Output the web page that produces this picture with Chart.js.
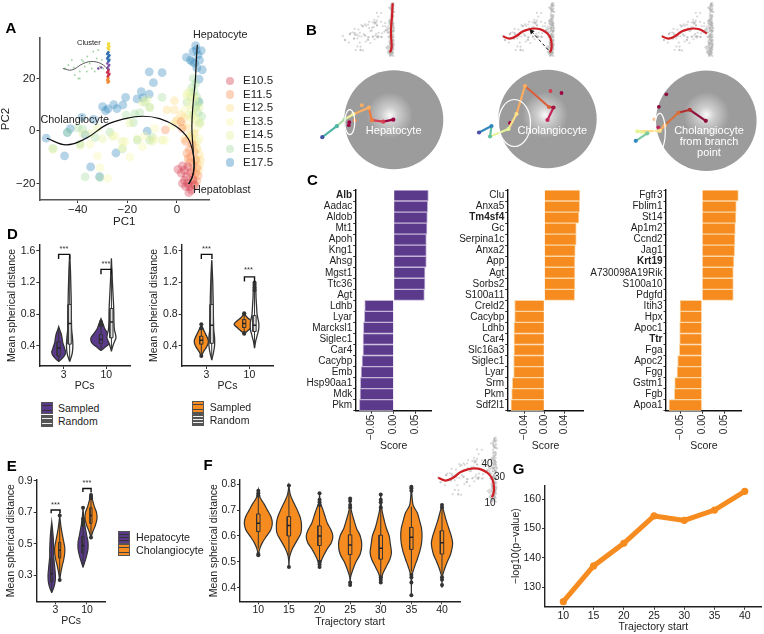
<!DOCTYPE html>
<html><head><meta charset="utf-8">
<style>
html,body{margin:0;padding:0;background:#fff}
#root{position:relative;width:764px;height:634px;overflow:hidden;background:#fff;font-family:"Liberation Sans",Arial,sans-serif}
#root canvas{position:absolute}
.t{position:absolute;white-space:nowrap;line-height:1;color:#222}
.k{position:absolute;box-sizing:border-box}
</style>
<script src="https://cdn.jsdelivr.net/npm/chart.js@4"></script>
</head><body><div id="root"></div>
<script>
/* ---------- Panel A data ---------- */
const stages=['E10.5','E11.5','E12.5','E13.5','E14.5','E15.5','E17.5'];
const stageColors=['#D53E4F','#F98E52','#FDDB85','#F7F7A8','#E2F29A','#A4DA9F','#3288BD'];
const e105=[[0.4,-14.6],[2.2,-13.3],[3,-14.9],[1.7,-16.1],[3.8,-17.4],[3,-18.7],[2.2,-20],[4.4,-20],[5.1,-21.2],[3.5,-21.2],[5.8,-22.5],[4.8,-23.5],[7.1,-20.6],[6.5,-18.7],[5.4,-16.1],[4.4,-13.6]];
const e115=[[6,-5],[5,-7],[7,-8],[5.5,-10],[7.5,-11],[6.5,-13],[8,-14],[5,-12],[7.5,-16],[8.5,-17],[6,-15.5],[8,-19],[4,-8.5],[3.5,-4],[1.6,3.5],[-4.7,0.4],[2,1],[7,-20.5],[4.5,-10.5],[6.5,-18]];
const e125=[[0,4],[-1,8],[-4,8],[-1,11.5],[1.5,6],[3,5],[2.5,2],[4,1],[5,-2],[3,-3],[6,-3],[7,-5],[8,-6.5],[9,-9],[8,-11],[9,-13],[7,-1],[-0.5,3.5],[8.7,-15],[9.5,-11]];
const e135=[[-32,-9.5],[-31,-14],[-28,-18],[-19,-10],[-21,-4],[-25,-2],[-14,-6],[-9,-3],[-5,-3.5],[-2,2],[3,8],[5,10],[6,3],[8,1],[9,-3],[7,6],[5.5,-2],[8,-7],[4,13],[7,12],[6,5],[-13,-2],[-22,-6.5],[-9,1],[-35,-5]];
const e145=[[-50,-7],[-39,-5.5],[-35,-1],[-30,-3],[-26,-2],[-22,-4],[-16,-3],[-10,-4],[-12,12],[-14,11],[4,14],[5,15],[7,13],[9,9],[8,4],[6,8],[9.5,3],[6.5,-1],[8,-4],[4.5,6],[-38,-1],[-32,1],[-6,-3.5],[-19,3],[-11,9]];
const e155=[[-50,-6.6],[-39,-5],[-37,-17.5],[-31,-17.8],[-22,-6.8],[-16,-3.5],[-11,-3.5],[-10,-2.5],[-6,12.8],[-11,9],[-15,7],[-17,6.5],[-17.5,3.2],[-20.5,6],[-27,-0.5],[-33,-2.5],[-38,0.7],[-40,1.2],[4,11],[6,16.5],[7,15],[8,13],[9,11],[10,5.5],[7.5,9],[8.5,7],[6.5,6],[9,3],[5.5,13],[7.5,18],[6.5,20],[8,10],[-44,-0.5],[-13,11]];
const e175=[[-11.2,22.5],[-6,22.2],[-9.5,18.4],[-14.4,15],[-11.2,14],[-20.7,12.8],[-16.1,12.2],[-13.7,12.6],[-21.8,9.9],[-25.5,10],[-30,9.3],[-27.8,8.4],[-28.8,7.7],[-24.2,8.5],[-38.3,5.2],[-33.6,4.4],[-43,0.9],[-44.2,-0.6],[-37,-1.5],[-52.7,-2.7],[-45.3,-9.5],[-34.8,-13.7],[-31.2,-17.4],[-24.6,-8.4],[-12,-0.1],[7.8,30.9],[9.8,30.6],[6.5,30.2],[8.5,29],[3.8,28],[5.4,27],[7.1,25.8],[9.1,27],[7.5,32.5],[10.2,23.3],[8.9,19.7],[8.7,11.2],[6.2,26.4],[8,24]];
const stageSeries=[e175,e155,e145,e135,e125,e115,e105];
const stageSeriesColors=[stageColors[6],stageColors[5],stageColors[4],stageColors[3],stageColors[2],stageColors[1],stageColors[0]];
const hepatoCurve=[[4.7,-20.2],[6.2,-17.4],[6.9,-13.6],[6.5,-7.2],[6,1.7],[6.5,10.5],[7.4,19.4],[7.8,27],[8.2,32.8]];
const cholangioCurve=[[-52.4,-2.8],[-44.6,-5.3],[-36.6,-2.8],[-28.5,2.3],[-20.4,4.8],[-13.7,5.6],[-7,4.7],[-0.3,1.7],[4.4,-2.8],[6.5,-8.5],[6.9,-13.6],[6.2,-17.4],[4.7,-20.2]];
const branchCurve=[[-52.4,-2.8],[-44.6,-5.3],[-36.6,-2.8],[-28.5,2.3],[-20.4,4.8],[-13.7,5.6],[-7,4.7],[-0.3,1.7],[2.2,0]];
/* inset "Cluster" */
const clusterGreen=[[-87,-17],[-80,-10],[-73,0],[-67,-30],[-60,-37],[-57,-23],[-53,0],[-47,-13],[-42,7],[-37,-7],[-33,-17],[-30,17],[-23,3],[-20,20],[-17,-13],[-27,-23],[-43,-23],[-69,-15],[-50,-3],[-57,-37],[-13,0],[-10,-17]];
const clusterCurve=[[-91,-17],[-73,-20],[-50,-7],[-30,-3],[-10,-10],[0,-23],[0,-40]];
const clusterYellow=[[1,33],[0,30],[2,27],[-1,24],[1,21]];
const clusterBlue=[[0,15],[-2,12],[2,9],[0,6],[-2,3],[2,0],[0,-3]];
const clusterPurple=[[-2,-7],[2,-10],[0,-13],[-2,-16],[1,-19],[-14,-15],[-20,-17]];
const clusterRed=[[0,-22],[-2,-25],[2,-28],[0,-31],[-1,-34]];
const clusterOrange=[[0,-37],[-2,-40],[1,-43],[-1,-45]];
/* ---------- Panel B data ---------- */
const grayColumn=[[7,32],[8,30],[6.5,28],[8.5,26],[7,24],[6,22],[8,20],[9,18],[7,16],[6,14],[8,12],[7,10],[9,8],[6,6],[7.5,4],[8.5,2],[6.5,0],[7.5,-2],[9,-4],[6,-6],[8,-8],[7,-10],[5.5,-12],[8.5,-14],[7,-16],[6,-18],[8,-20],[7,-22],[5.5,-24],[7.5,31],[6.5,25],[8,17],[6.8,9],[8,3],[7,-3],[6.4,-9],[8,-15],[6.8,-19],[7.6,-23],[8.8,33],[6,29],[9,24],[5.8,19],[8.6,15],[5.6,11],[9.4,6],[5.4,3],[9.2,-1],[5.2,-4],[9.6,-7],[5,-10],[9.4,-12],[4.8,-15],[9,-17],[4.6,-19],[8.8,-21],[5,-22],[9,-24]];
const disc1X=[-0.01,-0.21,-0.44,-0.5,-0.81,-0.98,-1.14,-1.43], disc1Y=[0,-0.04,-0.01,0.24,0.11,0.01,-0.13,-0.35];
const disc2X=[0,0.12,0.03,-0.45,-0.62,-0.78,-1.15,-1.12,-1.37], disc2Y=[-0.02,0.23,0.24,0.66,0.1,-0.2,-0.35,-0.14,-0.27];
const disc3X=[-0.01,-0.33,-0.56,-0.83,-0.93,-1.38,-1.18,-1.41], disc3Y=[0,0.22,0.16,-0.09,-0.2,-0.21,-0.25,-0.4];
const disc1Colors=['#9E0142','#D53E4F','#EE7B3F','#FDAE61','#F4EE9A','#ABDDA4','#52B5A5','#3F55A8'];
const disc2Colors=['#C2255C','#A0183F','#D9603B','#FDAE61','#FEE08B','#E6F598','#66C2A5','#3288BD','#4A4FA8'];
const disc3Colors=['#8E0F3F','#B2302F','#D9703B','#FDAE61','#FEE08B','#E6F598','#7CCBA2','#3288BD'];
const stray1=[[-0.9,-0.11],[-0.89,-0.05],[-0.64,0.29],[-0.78,-0.01]], stray1Colors=['#9E0142','#9E0142','#FDAE61','#F98E52'];
const stray2=[[0.06,0.56],[0.28,0.52],[-0.75,-0.08]], stray2Colors=['#D53E4F','#9E0142','#9E0142'];
const stray3=[[-0.8,0.53],[-0.95,0.28],[-0.96,-0.13],[-1.04,0.03]], stray3Colors=['#8E0F3F','#8E0F3F','#C2255C','#FBC79A'];
const ellipses=[[-0.88,-0.05,0.1,0.25],[-0.66,-0.08,0.32,0.47],[-0.93,-0.22,0.11,0.37]];
const arrowLine=[[2.8,-17.5],[-17.4,2.1]];
/* ---------- Panel C data ---------- */
const genes1=['Alb','Aadac','Aldob','Mt1','Apoh','Kng1','Ahsg','Mgst1','Ttc36','Agt','Ldhb','Lyar','Marcksl1','Siglec1','Car4','Cacybp','Emb','Hsp90aa1','Mdk','Pkm'];
const scores1=[0.0788,0.0773,0.0765,0.0758,0.0742,0.0742,0.0742,0.0712,0.0712,0.0697,-0.0659,-0.0667,-0.0689,-0.0697,-0.0697,-0.072,-0.0742,-0.0758,-0.0765,-0.078];
const genes2=['Clu','Anxa5','Tm4sf4','Gc','Serpina1c','Anxa2','App','Agt','Sorbs2','S100a11','Creld2','Cacybp','Ldhb','Car4','Slc16a3','Siglec1','Lyar','Srm','Pkm','Sdf2l1'];
const scores2=[0.0713,0.0707,0.0693,0.064,0.064,0.062,0.0613,0.0613,0.0613,0.0607,-0.0593,-0.0593,-0.0607,-0.0607,-0.0607,-0.0613,-0.0613,-0.064,-0.0653,-0.0667];
const genes3=['Fgfr3','Fblim1','St14','Ap1m2','Ccnd2','Jag1','Krt19','A730098A19Rik','S100a10','Pdgfd','Itih3','Hpx','Apoc1','Ttr','Fga','Apoc2','Fgg','Gstm1','Fgb','Apoa1'];
const scores3=[0.0826,0.078,0.0773,0.0758,0.075,0.0742,0.0727,0.0712,0.0712,0.0712,-0.05,-0.05,-0.0508,-0.0508,-0.0515,-0.0553,-0.0568,-0.0621,-0.0629,-0.075];
const boldGenes=['Alb','Tm4sf4','Krt19','Ttr'];
/* ---------- Panel D data ---------- */
const d1Pos=[0.883,1.14,1.875,2.12];
const d1Levels=[[0.2,0.24,0.28,0.32,0.36,0.4,0.44,0.48,0.52,0.56,0.6,0.64],[0.2,0.3,0.4,0.5,0.6,0.7,0.8,0.9,1.0,1.1,1.2,1.3,1.4,1.55],[0.34,0.38,0.42,0.46,0.5,0.54,0.58,0.62,0.66,0.7,0.74],[0.33,0.4,0.45,0.5,0.55,0.6,0.7,0.8,0.9,1.0,1.1,1.2,1.3,1.4,1.5]];
const d1Density=[[0,3.5,6,7,6,5,4,3.5,3,2.2,1,0],[0,2.5,3.2,2.8,2,1.8,1.6,1.6,1.5,1.3,1.1,0.9,0.6,0],[0,4,8,10,10,8,5.5,3.5,2.5,1.2,0],[0,1.5,3,4.5,4,3,2.5,2.4,2.2,1.8,1.4,1,0.7,0.3,0]];
const d1Box=[[0.2,0.27,0.37,0.45,0.62],[0.2,0.42,0.68,0.92,1.55],[0.36,0.43,0.48,0.54,0.68],[0.33,0.5,0.7,0.87,1.5]];
const d1Out=[[],[],[0.7,0.68,0.66],[]];
const d2Pos=[0.883,1.125,1.88,2.12];
const d2Levels=[[0.26,0.32,0.38,0.42,0.46,0.5,0.54,0.58,0.62,0.67],[0.22,0.3,0.4,0.5,0.6,0.7,0.8,0.9,1,1.1,1.2,1.3,1.48],[0.55,0.59,0.63,0.67,0.71,0.75,0.78,0.81],[0.37,0.45,0.5,0.55,0.6,0.65,0.7,0.8,0.9,1,1.1,1.2]];
const d2Density=[[0,2,5,6.5,7,6,4.5,3,1.5,0],[0,1.5,2.8,2.8,2,1.8,1.6,1.5,1.4,1.2,1,0.7,0],[0,3.5,7,10,7.5,3.5,1.5,0],[0,1,2,3,4,4.3,4,2.5,2,1.5,1.2,0]];
const d2Box=[[0.27,0.42,0.47,0.52,0.66],[0.22,0.43,0.66,0.92,1.48],[0.56,0.63,0.68,0.73,0.8],[0.37,0.58,0.66,0.78,1.08]];
const d2Out=[[0.27,0.67,0.62],[],[0.55,0.56,0.8,0.81],[1.1,1.12,1.14,1.16,1.18,1.2]];
/* ---------- Panel E data ---------- */
const ePos=[0.887,1.139,1.875,2.126];
const eLevels=[[0.19,0.22,0.26,0.3,0.34,0.38,0.42,0.46,0.5,0.54,0.58,0.64],[0.27,0.32,0.36,0.4,0.44,0.48,0.52,0.56,0.6,0.64,0.68],[0.35,0.39,0.43,0.47,0.51,0.55,0.59,0.63,0.67,0.73],[0.54,0.58,0.62,0.66,0.7,0.74,0.78,0.82]];
const eDensity=[[0,2,3.4,3.7,3.2,2.6,2,2,1.8,1.5,1,0],[0,1.2,2.5,4,5,5,3.8,2.6,1.5,0.7,0],[0,2,3.8,5,5,3.8,2.6,1.5,0.7,0],[0,2,4.5,6,5.5,3.2,1.5,0]];
const eBox=[[0.2,0.26,0.31,0.41,0.6],[0.28,0.41,0.46,0.51,0.66],[0.36,0.44,0.49,0.55,0.7],[0.55,0.63,0.68,0.73,0.8]];
const eOut=[[],[0.27,0.68],[0.73,0.66,0.64,0.62],[0.54,0.79,0.8,0.81]];
/* ---------- Panel F data ---------- */
const trajStarts=['10','15','20','25','30','35','40'];
const fLevels=[[0.525,0.55,0.575,0.6,0.625,0.65,0.675,0.7,0.725,0.75,0.78],[0.48,0.52,0.55,0.58,0.61,0.64,0.67,0.7,0.73,0.76,0.795],[0.475,0.5,0.525,0.55,0.575,0.6,0.625,0.65,0.675,0.7,0.73,0.765],[0.405,0.44,0.47,0.5,0.53,0.565,0.6,0.63,0.66,0.69,0.72,0.745],[0.417,0.45,0.48,0.51,0.535,0.57,0.6,0.63,0.66,0.69,0.72,0.76],[0.365,0.42,0.45,0.48,0.51,0.54,0.57,0.6,0.63,0.66,0.69,0.72,0.795],[0.4,0.44,0.47,0.5,0.53,0.57,0.6,0.63,0.66,0.69,0.72]];
const fDensity=[[0,0.1,0.3,0.6,0.9,1,0.9,0.65,0.4,0.12,0],[0,0.05,0.25,0.55,0.85,0.9,0.82,0.6,0.33,0.1,0],[0,0.1,0.3,0.55,0.85,0.95,0.8,0.55,0.4,0.25,0.05,0],[0,0.03,0.2,0.42,0.72,0.83,0.72,0.45,0.28,0.12,0.02,0],[0,0.12,0.38,0.65,0.76,0.68,0.6,0.4,0.25,0.12,0.04,0],[0,0.01,0.06,0.22,0.42,0.6,0.72,0.76,0.72,0.58,0.42,0.12,0],[0,0.02,0.17,0.38,0.62,0.76,0.66,0.48,0.3,0.15,0]];
const fBox=[[0.552,0.617,0.649,0.685,0.752],[0.52,0.6,0.64,0.675,0.778],[0.488,0.563,0.6,0.639,0.72],[0.443,0.528,0.565,0.604,0.7],[0.436,0.51,0.552,0.603,0.727],[0.462,0.548,0.595,0.633,0.713],[0.449,0.53,0.574,0.62,0.707]];
const fOut=[[0.775,0.765,0.757,0.53,0.525],[0.795,0.48],[0.765,0.74,0.73,0.72,0.5,0.49,0.48],[0.745,0.735,0.72,0.71,0.42,0.41],[0.76,0.74,0.73,0.71,0.44,0.43,0.42],[0.79,0.785,0.775,0.45,0.44,0.42,0.37],[0.72,0.71,0.44,0.43,0.41]];
/* ---------- Panel G data ---------- */
const gStart=[10,15,20,25,30,35,40];
const gValues=[125.1,137.3,145,154.3,152.8,156.3,162.7];

/* ---------- helpers ---------- */
const PURPLE='#5B3A8C', ORANGE='#F68B1F', DARK='#333';
Chart.defaults.font.family='"Liberation Sans",Arial,sans-serif';
Chart.defaults.color='#222';
Chart.defaults.animation=false;
const root=document.getElementById('root');

function label(text,x,y,o={}){
  const e=document.createElement('div');e.className='t';e.textContent=text;
  const tx=o.align==='left'?'0':o.align==='right'?'-100%':'-50%';
  e.style.cssText+=`left:${x}px;top:${y}px;font-size:${o.size||10.5}px;color:${o.color||'#222'};font-weight:${o.weight||'normal'};transform:translate(${tx},-50%)`;
  root.appendChild(e);
}
function key(x,y,w,h,c,line){
  const e=document.createElement('div');e.className='k';
  const s=line||'#333';
  e.style.cssText+=`left:${x}px;top:${y}px;width:${w}px;height:${h}px;border:1.2px solid #555;background:linear-gradient(to bottom,${c} 0 22%,${s} 22% 30%,${c} 30% 46%,${s} 46% 54%,${c} 54% 70%,${s} 70% 78%,${c} 78% 100%)`;
  root.appendChild(e);
}
function mount(x,y,w,h){
  const c=document.createElement('canvas');c.width=w;c.height=h;
  c.style.cssText=`left:${x}px;top:${y}px;width:${w}px;height:${h}px`;
  root.appendChild(c);return c;
}
function ordered(list){return list.map((d,i)=>({...d,order:list.length-i}));}
function axis(o){
  return {type:'linear',min:o.min,max:o.max,
    afterBuildTicks:s=>{s.ticks=o.ticks.map(v=>({value:v}));},
    afterFit:s=>{if(s.isHorizontal())s.height=o.m;else s.width=o.m;},
    ticks:{autoSkip:false,maxRotation:o.rot||0,minRotation:o.rot||0,padding:o.pad===undefined?1:o.pad,color:'#222',font:{size:o.size||10.5},callback:(v,i)=>o.labels[i]},
    grid:{display:true,drawOnChartArea:false,drawTicks:true,tickLength:3,tickColor:'#333',tickWidth:1},
    border:{display:true,color:o.bc||'#222',width:o.bw||1.4},
    title:o.title?{display:true,text:o.title,padding:0,color:'#222',font:{size:o.tsize||10.5}}:{display:false}};
}
/* a chart with a fixed plot rectangle L,T,R,B; axis titles centred at yc (x axis) and xc (y axis) */
function plot(g,xa,ya,datasets,plugins){
  const ts=ya.tsize||10.5, ts2=xa.tsize||10.5;
  const cl=Math.round(g.xc!==undefined?g.xc-ts*0.6:g.L-(g.ml||40));
  const cb=Math.round(g.yc+ts2*0.6), ct=Math.round(g.T-10), cr=Math.round(g.R+10);
  const c=mount(cl,ct,cr-cl,cb-ct);
  xa.m=cb-g.B; ya.m=g.L-cl;
  return new Chart(c,{type:'scatter',data:{datasets:ordered(datasets)},plugins:plugins||[],options:{responsive:false,maintainAspectRatio:false,animation:false,
    layout:{padding:{left:0,top:g.T-ct,right:cr-g.R,bottom:0}},
    plugins:{legend:{display:false},tooltip:{enabled:false}},events:[],
    scales:{x:axis(xa),y:axis(ya)}}});
}
/* plot without axes: px0,py0 = pixel of data origin, sx,sy = pixels per unit; the canvas has a margin "pad" so point overflow never shrinks the plot */
function free(rect,px0,py0,sx,sy,datasets,plugins,pad=6){
  const [x,y,w,h]=rect,c=mount(x-pad,y-pad,w+2*pad,h+2*pad);
  return new Chart(c,{type:'scatter',data:{datasets:ordered(datasets)},plugins:plugins||[],options:{responsive:false,maintainAspectRatio:false,animation:false,
    layout:{padding:pad},plugins:{legend:{display:false},tooltip:{enabled:false}},events:[],
    scales:{x:{type:'linear',display:false,min:(x-px0)/sx,max:(x+w-px0)/sx},y:{type:'linear',display:false,min:(py0-y-h)/sy,max:(py0-y)/sy}}}});
}
const pts=a=>a.map(p=>({x:p[0],y:p[1]}));
const dots=(a,c,r)=>({data:pts(a),backgroundColor:c,borderWidth:0,pointRadius:r,clip:false});
const curve=(a,c,w,t=0.4)=>({data:pts(a),showLine:true,borderColor:c,borderWidth:w,pointRadius:0,tension:t,fill:false,clip:false});
function violinSets(pos,levels,dens,box,outs,scale,fill,boxFill,hw,lw){
  const left=levels.map((y,i)=>({x:pos-dens[i]*scale,y}));
  const right=levels.map((y,i)=>({x:pos+dens[i]*scale,y})).reverse();
  const [lo,q1,med,q3,hi]=box;
  return [
    {data:left.concat(right),showLine:true,fill:'shape',backgroundColor:fill,borderColor:'#333',borderWidth:lw||1.2,pointRadius:0,tension:0.32},
    {data:[{x:pos,y:lo},{x:pos,y:hi}],showLine:true,borderColor:'#333',borderWidth:1,pointRadius:0},
    {data:[{x:pos-hw,y:q1},{x:pos+hw,y:q1},{x:pos+hw,y:q3},{x:pos-hw,y:q3},{x:pos-hw,y:q1}],showLine:true,fill:'shape',backgroundColor:boxFill,borderColor:'#333',borderWidth:1,pointRadius:0},
    {data:[{x:pos-hw,y:med},{x:pos+hw,y:med}],showLine:true,borderColor:'#222',borderWidth:1.5,pointRadius:0},
    {data:outs.map(y=>({x:pos,y})),backgroundColor:'#333',borderWidth:0,pointRadius:2}
  ];
}
const bracket=(x1,x2,top,low)=>({data:[{x:x1,y:low},{x:x1,y:top},{x:x2,y:top},{x:x2,y:low}],showLine:true,borderColor:'#111',borderWidth:1.4,pointRadius:0});

/* ---------- A ---------- */
plot({L:39.5,T:38,R:209,B:200,xc:6,yc:222},
 {min:-55.4,max:12.9,ticks:[-40,-20,0],labels:['\u221240','\u221220','0'],title:'PC1',size:11.5,tsize:11.5,bc:'#555',bw:1.6,pad:0},
 {min:-26.3,max:35.4,ticks:[-20,0,20],labels:['\u221220','0','20'],title:'PC2',size:11.5,tsize:11.5,bc:'#555',bw:1.6},
 stageSeries.map((s,i)=>dots(s,stageSeriesColors[i]+'5C',4.4)).concat([curve(hepatoCurve,'#111',1.2),curve(cholangioCurve,'#111',1.2)]));
free([56,36,62,50],108.3,60,0.5,0.5,[
 dots(clusterGreen,'rgba(130,195,130,.75)',0.9),
 curve(clusterCurve,'#333',0.8),
 dots(clusterYellow,'#F2D93B',1.4),dots(clusterBlue,'#2F6DB0',1.4),dots(clusterPurple,'#7A4A9E',1.2),dots(clusterRed,'#D0304F',1.4),dots(clusterOrange,'#F08A35',1.4)]);
label('A',5.5,26.7,{size:15,weight:'bold',align:'left',color:'#000'});
label('Hepatocyte',193,34,{size:10.8,align:'left'});
label('Cholangiocyte',40.5,119,{size:10.8,align:'left'});
label('Hepatoblast',193,189,{size:10.8,align:'left'});
label('Cluster',77,43,{size:7.5,align:'left'});
stages.forEach((s,i)=>{
  const y=81+13.6*i,e=document.createElement('div');e.className='k';
  e.style.cssText+=`left:225.7px;top:${y-4.3}px;width:8.6px;height:8.6px;border-radius:50%;background:${stageColors[i]}66`;
  root.appendChild(e);
  label(s,243,y,{size:11.5,align:'left'});
});

/* ---------- B top ---------- */
const allCells=[...stageSeries.flat(),...grayColumn];
const grayDots=dots(allCells,'rgba(160,160,160,.42)',1.1);
free([335,0,70,62],386,33.7,0.82,0.93,[grayDots,curve(hepatoCurve,'#CF1F25',2.2)]);
free([495,0,70,62],546,33.7,0.82,0.93,[grayDots,curve(cholangioCurve,'#CF1F25',2.2),
  {data:pts(arrowLine),showLine:true,borderColor:'#111',borderWidth:1,borderDash:[3,2.5],pointRadius:[0,3],pointStyle:'triangle',pointRotation:-42,pointBackgroundColor:'#111',pointBorderWidth:0,clip:false}]);
free([654,0,70,62],705,33.7,0.82,0.93,[grayDots,curve(branchCurve,'#CF1F25',2.2)]);

/* ---------- B discs ---------- */
const ellipsePlugin=e=>({id:'ring',afterDatasetsDraw(ch){
  const c=ch.ctx,s=ch.scales;c.save();c.strokeStyle='#fff';c.lineWidth=1.2;c.beginPath();
  c.ellipse(s.x.getPixelForValue(e[0]),s.y.getPixelForValue(e[1]),e[2]*50,e[3]*50,0,0,Math.PI*2);c.stroke();c.restore();}});
function disc(cx,cy,r,glow,xs,ys,cols,stray,strayCols,ell){
  const glowFill=ctx=>{const ch=ctx.chart,s=ch.scales;if(!s.x)return 'rgba(255,255,255,0)';
    const px=s.x.getPixelForValue(glow[0]),py=s.y.getPixelForValue(glow[1]);
    if(!isFinite(px)||!isFinite(py))return 'rgba(255,255,255,0)';
    const g=ch.ctx.createRadialGradient(px,py,0,px,py,23);
    g.addColorStop(0,'rgba(255,255,255,.95)');g.addColorStop(0.35,'rgba(255,255,255,.5)');g.addColorStop(1,'rgba(255,255,255,0)');return g;};
  free([Math.round(cx-100),Math.round(cy-60),160,122],cx,cy,50,50,[
    {data:[{x:0,y:0}],backgroundColor:'#9C9C9C',borderWidth:0,pointRadius:r,clip:false},
    {data:[{x:glow[0],y:glow[1]}],backgroundColor:glowFill,borderWidth:0,pointRadius:23,clip:false},
    {data:pts(stray),backgroundColor:strayCols,borderWidth:0,pointRadius:1.9,clip:false},
    {data:xs.map((x,i)=>({x,y:ys[i]})),showLine:true,borderWidth:2.2,borderColor:cols[0],segment:{borderColor:c=>cols[c.p0DataIndex]},pointRadius:2.1,pointBackgroundColor:cols,pointBorderWidth:0,clip:false}
  ],[ellipsePlugin(ell)],55);
}
disc(393.8,119.7,49.5,[-0.08,0.09],disc1X,disc1Y,disc1Colors,stray1,stray1Colors,ellipses[0]);
disc(547.5,119,49.2,[-0.05,0.08],disc2X,disc2Y,disc2Colors,stray2,stray2Colors,ellipses[1]);
disc(706.3,120.8,50.3,[0,0.12],disc3X,disc3Y,disc3Colors,stray3,stray3Colors,ellipses[2]);
label('B',306,29.3,{size:15,weight:'bold',align:'left',color:'#000'});
label('Hepatocyte',393.7,130,{size:11,color:'#fff'});
label('Cholangiocyte',552.3,130,{size:11,color:'#fff'});
label('Cholangiocyte',709,130,{size:11,color:'#fff'});
label('from branch',709,141,{size:11,color:'#fff'});
label('point',709,152.3,{size:11,color:'#fff'});

/* ---------- C ---------- */
function bars(L,R,x0,scale,genes,scores,color,edge,title,tc,ticksV,ticksL){
  const T=187.3,B=410.7;
  const cl=Math.round(L-85),ct=Math.round(T-4),cr=Math.round(R+6),cb=Math.round(452.3);
  const c=mount(cl,ct,cr-cl,cb-ct);
  const xa=axis({min:(L-x0)/scale,max:(R-x0)/scale,ticks:ticksV,labels:ticksL,title,size:10,rot:90,m:cb-B,bc:'#111'});
  new Chart(c,{type:'bar',data:{labels:genes,datasets:[{data:scores,backgroundColor:color,borderColor:edge,borderWidth:1,barPercentage:1,categoryPercentage:1}]},
   options:{indexAxis:'y',responsive:false,maintainAspectRatio:false,animation:false,events:[],
    layout:{padding:{left:0,top:T-ct,right:cr-R,bottom:0}},plugins:{legend:{display:false},tooltip:{enabled:false}},
    scales:{x:xa,y:{type:'category',afterFit:s=>{s.width=L-cl;},
      ticks:{autoSkip:false,padding:1,color:'#222',font:ctx=>({size:10,weight:boldGenes.includes(genes[ctx.index])?'bold':'normal'})},
      grid:{display:true,drawOnChartArea:false,drawTicks:true,tickLength:2.5,tickColor:'#333',tickWidth:1},border:{display:true,color:'#111',width:1.4}}}}});
}
const t5=['\u22120.05','0.00','0.05'],t4=['\u22120.04','0.00','0.04'];
bars(355.7,431.7,393.7,440,genes1,scores1,PURPLE,'#C4B5D8','Score',0,[-0.05,0,0.05],t5);
bars(507.7,583.3,544.3,500,genes2,scores2,ORANGE,'#FBD6A5','Score',0,[-0.04,0,0.04],t4);
bars(666,741.7,702,440,genes3,scores3,ORANGE,'#FBD6A5','Score',0,[-0.05,0,0.05],t5);
label('C',307,178.5,{size:15,weight:'bold',align:'left',color:'#000'});

/* ---------- D ---------- */
function panelD(g,pos,levels,dens,box,outs,fill,br){
  const u=42.6;
  let sets=[];
  pos.forEach((p,i)=>{
    const random=i%2===1;
    sets=sets.concat(violinSets(p,levels[i],dens[i],box[i],outs[i],1/u,random?'#fff':fill,random?'#ddd':fill,1.6/u,1.3));
  });
  sets.push(bracket(br[0],br[1],br[2],br[2]-0.06),bracket(br[3],br[4],br[5],br[5]-0.06));
  plot(g,
   {min:0.427,max:2.556,ticks:[1,2],labels:['3','10'],title:'PCs',pad:0},
   {min:0.144,max:1.672,ticks:[0.4,0.8,1.2,1.6],labels:['0.4','0.8','1.2','1.6'],title:'Mean spherical distance'},sets);
}
panelD({L:39.3,T:245,R:130,B:366,xc:12.3,yc:386},d1Pos,d1Levels,d1Density,d1Box,d1Out,PURPLE,[0.88,1.14,1.554,1.875,2.12,1.364]);
panelD({L:181.7,T:245,R:273.3,B:366,xc:154,yc:386},d2Pos,d2Levels,d2Density,d2Box,d2Out,ORANGE,[0.883,1.13,1.554,1.885,2.12,1.27]);
label('D',7,232.7,{size:15,weight:'bold',align:'left',color:'#000'});
[[64,249],[106,264],[206.5,249],[248.5,270]].forEach(p=>label('***',p[0],p[1],{size:7.5,color:'#333'}));
key(40.7,401.7,12.8,12.8,PURPLE);key(40.7,414.5,12.8,12.8,'#555','#eee');
label('Sampled',58,408,{size:10.5,align:'left'});label('Random',58,420.7,{size:10.5,align:'left'});
key(192,401,12.3,12.3,ORANGE,'#444');key(192,413.3,12.3,12.8,'#555','#eee');
label('Sampled',209.7,407.3,{size:10.5,align:'left'});label('Random',209.7,419.7,{size:10.5,align:'left'});

/* ---------- E ---------- */
(function(){
  const u=31.7;let sets=[];
  ePos.forEach((p,i)=>{const f=i%2?ORANGE:PURPLE;
    sets=sets.concat(violinSets(p,eLevels[i],eDensity[i],eBox[i],eOut[i],1/u,f,f,1/u,1.2));});
  sets.push(bracket(0.87,1.15,0.715,0.695),bracket(1.87,2.13,0.852,0.83));
  plot({L:36.7,T:480,R:105.7,B:601.3,xc:11,yc:621},
   {min:0.413,max:2.59,ticks:[1,2],labels:['3','10'],title:'PCs',pad:0},
   {min:0.135,max:0.906,ticks:[0.3,0.5,0.7,0.9],labels:['0.3','0.5','0.7','0.9'],title:'Mean spherical distance'},sets);
})();
label('E',6.7,465,{size:15,weight:'bold',align:'left',color:'#000'});
label('***',55.5,505,{size:7.5,color:'#333'});label('***',87,482.7,{size:7.5,color:'#333'});
key(117.7,531,12.5,12.5,PURPLE);key(117.7,543.5,12.5,12.5,ORANGE,'#444');
label('Hepatocyte',136,537.3,{size:10.7,align:'left'});label('Cholangiocyte',136,550,{size:10.7,align:'left'});

/* ---------- F ---------- */
(function(){
  const u=30.6;let sets=[];
  trajStarts.forEach((s,i)=>{
    sets=sets.concat(violinSets(i+1,fLevels[i],fDensity[i],fBox[i],fOut[i],14/u,ORANGE,ORANGE,1.7/u,1.2));});
  plot({L:240,T:480,R:460,B:601.3,xc:214.3,yc:621.3},
   {min:0.402,max:7.588,ticks:[1,2,3,4,5,6,7],labels:trajStarts,title:'Trajectory start',pad:0},
   {min:0.347,max:0.8166,ticks:[0.4,0.5,0.6,0.7,0.8],labels:['0.4','0.5','0.6','0.7','0.8'],title:'Mean spherical distance'},sets);
})();
label('F',203.5,464.3,{size:15,weight:'bold',align:'left',color:'#000'});
free([432,434,72,74],487.5,474.6,0.94,1.12,[grayDots,curve(cholangioCurve,'#CF1F25',2.2)]);
label('40',487,464,{size:10});label('30',499.5,477,{size:10});label('10',490,503,{size:10});

/* ---------- G ---------- */
plot({L:545,T:485.7,R:761.7,B:606.7,xc:516.7,yc:626.7},
 {min:6.97,max:42.8,ticks:gStart,labels:gStart.map(String),title:'Trajectory start',pad:0},
 {min:123.4,max:164.6,ticks:[130,140,150,160],labels:['130','140','150','160'],title:'\u2212log10(p\u2212value)'},
 [{data:gStart.map((x,i)=>({x,y:gValues[i]})),showLine:true,borderColor:ORANGE,borderWidth:5,pointRadius:3.6,pointBackgroundColor:ORANGE,pointBorderWidth:0,clip:false}]);
label('G',512.7,468.3,{size:15,weight:'bold',align:'left',color:'#000'});
</script></body></html>
